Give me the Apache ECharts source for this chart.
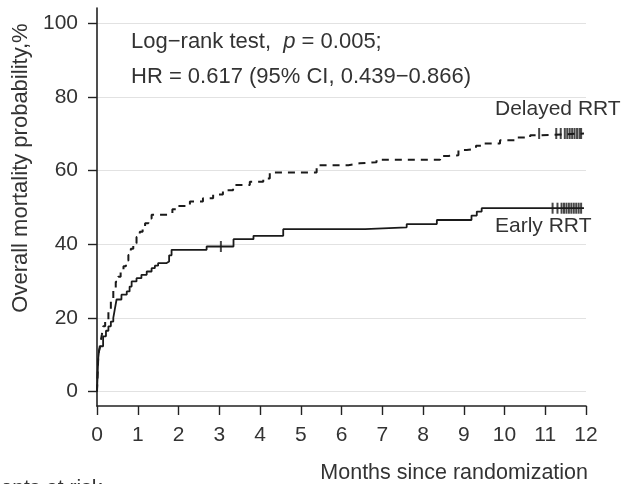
<!DOCTYPE html>
<html>
<head>
<meta charset="utf-8">
<script src="https://cdn.jsdelivr.net/npm/echarts@6/dist/echarts.min.js"></script>
<style>html,body{margin:0;padding:0;background:#fff}#c{width:624px;height:484px}</style>
</head>
<body>
<div id="c"></div>
<script>
// Kaplan-Meier cumulative mortality (%) vs months, [month, value]
var earlyRRT = [
  [0,0],[0.01,3],[0.02,6],[0.03,9],[0.05,11],[0.08,12.3],[0.15,15],[0.22,16.5],[0.28,17.7],[0.34,19],
  [0.4,20],[0.44,22.5],[0.48,25],[0.6,26.3],[0.73,27.2],[0.8,28.5],[0.85,29.9],[0.97,30.8],[1.09,31.7],
  [1.22,32.6],[1.34,33.5],[1.42,34.2],[1.5,34.9],[1.71,35.3],[1.77,37],[1.83,38.5],[2.69,39.4],
  [3.35,41.4],[3.84,42.3],[4.57,44.1],[6.58,44.6],[7.6,45.5],[8.34,46.6],[9.19,47.8],[9.32,48.9],
  [9.44,49.8],[11.95,49.8]
];
var delayedRRT = [
  [0,0],[0.01,3],[0.02,6],[0.03,9],[0.05,11],[0.08,13],[0.12,15.5],[0.15,17.7],[0.2,19.5],[0.28,22.2],
  [0.34,25],[0.4,28.1],[0.46,29.8],[0.52,31.2],[0.58,32.6],[0.65,34],[0.71,35.6],[0.77,37.1],[0.83,38.8],
  [0.89,40.3],[0.97,42],[1.05,43.4],[1.12,44.6],[1.18,45.7],[1.26,47],[1.34,48],[1.75,48.4],[1.85,49.5],
  [1.95,50.4],[2.28,51.6],[2.6,52.5],[2.85,53.5],[3.09,54.7],[3.34,56.1],[3.75,57],[4.08,57.9],[4.24,59.5],
  [5.39,61.5],[6.17,62],[6.45,62.3],[6.86,63],[8.42,64],[8.62,64.2],[8.87,65.6],[9.07,66],[9.3,66.8],
  [9.48,67.4],[9.89,68.3],[10.3,69],[10.63,69.6],[10.8,70.1],[11.95,70.1]
];
// censored observations [month, value]
var earlyCensor = [
  [3.04,39.4],[11.18,49.8],[11.3,49.8],[11.4,49.8],[11.46,49.8],[11.52,49.8],[11.58,49.8],[11.64,49.8],
  [11.7,49.8],[11.76,49.8],[11.82,49.8],[11.88,49.8]
];
var delayedCensor = [
  [10.85,70.1],[11.27,70.1],[11.38,70.1],[11.48,70.1],[11.54,70.1],[11.6,70.1],[11.66,70.1],[11.72,70.1],
  [11.78,70.1],[11.84,70.1],[11.88,70.1]
];
var yTicks = [0,20,40,60,80,100];
var xTicks = [0,1,2,3,4,5,6,7,8,9,10,11,12];

var FONT = '"Liberation Sans", Arial, Helvetica, sans-serif';
var chart = echarts.init(document.getElementById('c'), null, {renderer:'canvas'});
chart.setOption({
  animation:false,
  backgroundColor:'#fff',
  grid:{left:97, right:38, top:8, bottom:78, containLabel:false},
  xAxis:{
    type:'value', min:0, max:12, interval:1,
    axisLine:{onZero:false, lineStyle:{color:'#222', width:1.6}},
    axisTick:{length:9, lineStyle:{color:'#222', width:1.4}},
    axisLabel:{margin:19, fontSize:21, color:'#333', fontFamily:FONT},
    splitLine:{show:false}
  },
  yAxis:{
    type:'value', min:-3.94, max:104.2,
    axisLine:{show:true, onZero:false, lineStyle:{color:'#222', width:1.6}},
    axisTick:{show:true, length:9, customValues:yTicks, lineStyle:{color:'#222', width:1.4}},
    axisLabel:{margin:19, fontSize:21, color:'#333', fontFamily:FONT, customValues:yTicks},
    splitLine:{show:true, lineStyle:{color:'#e2e2e2', width:1.2}}
  },
  series:[
    {type:'line', name:'Early RRT', data:earlyRRT, step:'end', showSymbol:false, symbol:'none',
     lineStyle:{color:'#1a1a1a', width:1.8}},
    {type:'line', name:'Delayed RRT', data:delayedRRT, step:'end', showSymbol:false, symbol:'none',
     lineStyle:{color:'#1a1a1a', width:2, type:[7,6]}},
    {type:'scatter', data:earlyCensor, symbol:'rect', symbolSize:[2,11], itemStyle:{color:'#1a1a1a'}},
    {type:'scatter', data:delayedCensor, symbol:'rect', symbolSize:[2,11], itemStyle:{color:'#1a1a1a'}}
  ],
  graphic:[
    {type:'text', left:131, top:31, style:{text:'Log\u2212rank test,  {i|p} = 0.005;', font:'22px '+FONT, fill:'#333',
      rich:{i:{fontStyle:'italic', fontSize:22, fontFamily:FONT, fill:'#333'}}}},
    {type:'text', left:131, top:66, style:{text:'HR = 0.617 (95% CI, 0.439\u22120.866)', font:'22px '+FONT, fill:'#333'}},
    {type:'text', left:495, top:99, style:{text:'Delayed RRT', font:'21px '+FONT, fill:'#333'}},
    {type:'text', left:495, top:216, style:{text:'Early RRT', font:'21px '+FONT, fill:'#333'}},
    {type:'text', right:36, top:462, style:{text:'Months since randomization', font:'21.5px '+FONT, fill:'#333'}},
    {type:'text', x:21, y:168, rotation:Math.PI/2, style:{text:'Overall mortality probability,%', font:'22px '+FONT, fill:'#333', align:'center', verticalAlign:'middle'}},
    {type:'text', left:-4, top:478, style:{text:'ients at risk', font:'21px '+FONT, fill:'#333'}}
  ]
});
</script>
</body>
</html>
